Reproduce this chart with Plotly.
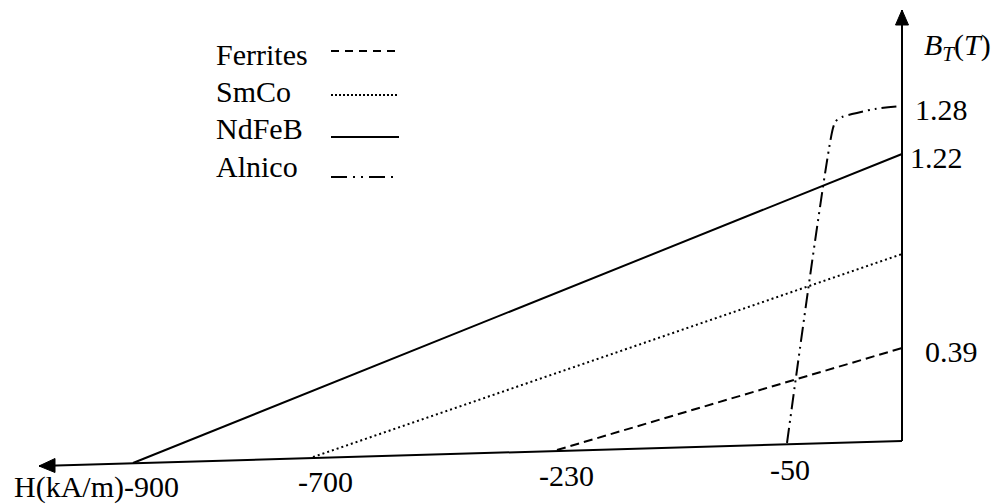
import plotly.graph_objects as go

# ---- data (schematic units; origin at the foot of the B axis, 1 unit ~ 1 px) ----
h_axis_x = [0, -863]
h_axis_y = [0, -25]
b_axis_x = [0, 0]
b_axis_y = [0, 431]

ferrites_x = [-345, 0]
ferrites_y = [-9, 93]
smco_x = [-589, 0]
smco_y = [-16, 187]
ndfeb_x = [-769, 0]
ndfeb_y = [-22, 287]
alnico_x = [-115, -69, -66, -60, -50, -27, 0]
alnico_y = [-2, 313, 320, 324, 327, 332, 335]

series_names = ["Ferrites", "SmCo", "NdFeB", "Alnico"]
h_tick_labels = ["H(kA/m)-900", "-700", "-230", "-50"]
b_tick_labels = ["1.28", "1.22", "0.39"]
b_axis_title = "<i>B</i><sub><i>T</i></sub>(<i>T</i>)"

# ---- styles ----
FONT = "Liberation Serif"
FS = 30
BLACK = "black"
styles = {
    "Ferrites": dict(dash="9px,5px", width=2),
    "SmCo": dict(dash="2px,3px", width=2),
    "NdFeB": dict(dash="solid", width=2),
    "Alnico": dict(dash="15px,5px,2px,5px,2px,5px", width=2),
}
legend_styles = {
    "Ferrites": dict(dash="8px,6px", width=2),
    "SmCo": dict(dash="2px,2px", width=2),
    "NdFeB": dict(dash="solid", width=2),
    "Alnico": dict(dash="16px,6px,2px,6px,2px,6px", width=2),
}

fig = go.Figure()

# axes lines
fig.add_trace(go.Scatter(x=h_axis_x, y=h_axis_y, mode="lines",
                         line=dict(color=BLACK, width=2), hoverinfo="skip"))
fig.add_trace(go.Scatter(x=b_axis_x, y=b_axis_y, mode="lines",
                         line=dict(color=BLACK, width=2), hoverinfo="skip"))
# arrowheads
tipx, tipy = b_axis_x[-1], b_axis_y[-1]
fig.add_trace(go.Scatter(x=[tipx - 6.5, tipx + 6.5, tipx, tipx - 6.5],
                         y=[tipy - 15, tipy - 15, tipy, tipy - 15],
                         mode="lines", fill="toself", fillcolor=BLACK,
                         line=dict(color=BLACK, width=1), hoverinfo="skip"))
hx, hy = h_axis_x[-1], h_axis_y[-1]
fig.add_trace(go.Scatter(x=[hx + 16, hx + 16, hx, hx + 16],
                         y=[hy + 7.5, hy - 6.5, hy, hy + 7.5],
                         mode="lines", fill="toself", fillcolor=BLACK,
                         line=dict(color=BLACK, width=1), hoverinfo="skip"))

# curves
curves = {
    "Ferrites": (ferrites_x, ferrites_y),
    "SmCo": (smco_x, smco_y),
    "NdFeB": (ndfeb_x, ndfeb_y),
    "Alnico": (alnico_x, alnico_y),
}
for name in series_names:
    xs, ys = curves[name]
    st = styles[name]
    fig.add_trace(go.Scatter(
        x=xs, y=ys, mode="lines", name=name,
        line=dict(color=BLACK, width=st["width"], dash=st["dash"],
                  shape="spline" if name == "Alnico" else "linear", smoothing=0.8),
        hoverinfo="skip"))

# hand-drawn legend
legend_text_y = [387, 350, 313, 275]
legend_line_y = [390, 346, 304, 264]
legend_x0, legend_x1 = -571, -503
for name, ty, ly in zip(series_names, legend_text_y, legend_line_y):
    st = legend_styles[name]
    fig.add_trace(go.Scatter(x=[legend_x0, legend_x1], y=[ly, ly], mode="lines",
                             line=dict(color=BLACK, width=st["width"], dash=st["dash"]),
                             hoverinfo="skip"))
    fig.add_annotation(x=-688, y=ty, text=name, showarrow=False,
                       xanchor="left", yanchor="middle",
                       font=dict(family=FONT, size=FS, color=BLACK))

# H tick labels
h_label_pos = [(-890, -46, "left"), (-577, -40, "center"), (-336, -34, "center"),
               (-112, -28, "center")]
for lab, (x, y, xa) in zip(h_tick_labels, h_label_pos):
    fig.add_annotation(x=x, y=y, text=lab, showarrow=False, xanchor=xa,
                       yanchor="middle", font=dict(family=FONT, size=FS, color=BLACK))

# B tick labels
b_label_pos = [(11, 332), (6, 284), (21, 90)]
for lab, (x, y) in zip(b_tick_labels, b_label_pos):
    fig.add_annotation(x=x, y=y, text=lab, showarrow=False, xanchor="left",
                       yanchor="middle", font=dict(family=FONT, size=FS, color=BLACK))

fig.add_annotation(x=20, y=394, text=b_axis_title, showarrow=False, xanchor="left",
                   yanchor="middle", font=dict(family=FONT, size=FS, color=BLACK))

fig.update_layout(
    width=1001, height=504, autosize=False,
    margin=dict(l=0, r=0, t=0, b=0, pad=0),
    paper_bgcolor="white", plot_bgcolor="white",
    showlegend=False,
    xaxis=dict(range=[-902, 99], visible=False, fixedrange=True),
    yaxis=dict(range=[-63, 441], visible=False, fixedrange=True),
)

fig.write_html("out.html")
